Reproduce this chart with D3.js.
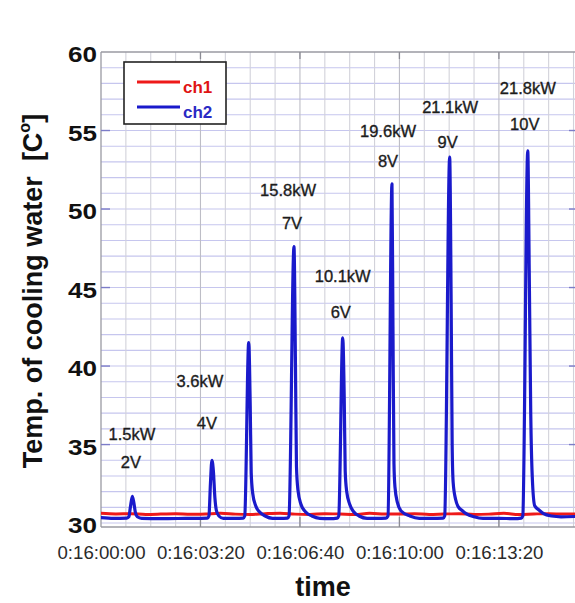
<!DOCTYPE html>
<html>
<head>
<meta charset="utf-8">
<script src="https://cdn.jsdelivr.net/npm/d3@7"></script>
<style>
  body { margin: 0; background: #fff; }
  svg { display: block; }
  text { font-family: "Liberation Sans", Arial, sans-serif; }
</style>
</head>
<body>
<svg id="chart" width="575" height="603"></svg>
<script>
// ===== Data =====
// time is seconds after 0:16:00:00
const timeTicks = [0, 200, 400, 600, 800];
const tempTicks = [30, 35, 40, 45, 50, 55, 60];

// ch1: reference channel, nearly flat
const ch1Time = [0, 30, 60, 90, 120, 150, 180, 210, 240, 270, 300, 330, 360, 390, 420, 450,
                 480, 510, 540, 570, 600, 630, 660, 690, 720, 750, 780, 810, 840, 870, 900, 930, 955];
const ch1Temp = [30.62, 30.58, 30.6, 30.55, 30.57, 30.6, 30.56, 30.58, 30.62, 30.57, 30.55, 30.6,
                 30.63, 30.57, 30.55, 30.6, 30.58, 30.55, 30.62, 30.58, 30.57, 30.6, 30.55, 30.58,
                 30.6, 30.55, 30.57, 30.62, 30.55, 30.58, 30.6, 30.57, 30.58];

// ch2: cooling water, one spike per load step
const ch2Time = [0, 25, 52, 56, 59, 63, 66, 69, 73, 82, 120, 170,
                 214, 217, 220, 223, 226, 229, 232, 237, 246, 270,
                 286, 289, 297, 300, 302, 305, 311, 319, 330, 345, 360,
                 375, 378, 388, 391, 393, 396, 402, 411, 424, 440, 460,
                 475, 478, 486, 489, 491, 494, 500, 508, 519, 535, 555,
                 573, 577, 585, 587, 589, 591, 596, 604, 621, 640, 665,
                 688, 691, 701, 704, 706, 708, 713, 718, 726, 735, 750, 768, 800, 830,
                 845, 848, 858, 861, 864, 867, 872, 880, 889, 906, 925, 955];
const ch2Temp = [30.35, 30.3, 30.32, 30.4, 31.0, 31.7, 31.3, 30.7, 30.4, 30.3, 30.28, 30.3,
                 30.32, 30.45, 32.5, 34.0, 33.3, 31.6, 30.8, 30.45, 30.3, 30.3,
                 30.32, 30.45, 41.5, 37.5, 33.2, 31.9, 31.1, 30.7, 30.45, 30.3, 30.3,
                 30.32, 30.45, 47.6, 40.0, 33.6, 32.1, 31.2, 30.72, 30.45, 30.3, 30.28,
                 30.32, 30.45, 41.8, 38.0, 33.3, 32.0, 31.2, 30.72, 30.45, 30.3, 30.3,
                 30.32, 30.45, 51.6, 42.5, 33.8, 32.3, 31.3, 30.75, 30.45, 30.3, 30.3,
                 30.32, 30.45, 53.3, 44.0, 35.0, 32.6, 31.5, 31.05, 30.8, 30.58, 30.4, 30.3, 30.3, 30.28,
                 30.32, 30.45, 53.7, 46.0, 37.0, 33.0, 31.1, 30.85, 30.62, 30.45, 30.4, 30.42];

// annotations next to the spikes (anchored in data units)
const noteText = ['1.5kW', '2V', '3.6kW', '4V', '15.8kW', '7V', '10.1kW', '6V',
                  '19.6kW', '8V', '21.1kW', '9V', '21.8kW', '10V'];
const noteTime = [62, 60, 199, 213, 376, 384, 486, 482, 577, 577, 702, 697, 858, 852];
const noteTemp = [35.29, 33.51, 38.67, 35.99, 50.83, 48.73, 45.36, 43.06,
                  54.59, 52.68, 56.12, 53.89, 57.33, 55.04];

const seriesNames = ['ch1', 'ch2'];

// ===== Styling =====
const colors = { ch1: '#ee1a1a', ch2: '#1a1acb' };
const textColors = { ch1: '#e01414', ch2: '#2a2ac4' };

const svg = d3.select('#chart');

const x = d3.scaleLinear().domain([0, 955]).range([101, 576]);
const y = d3.scaleLinear().domain([29.75, 60]).range([527, 52]);

const [x0, x1] = x.range();
const [yb, yt] = y.range();

svg.append('rect').attr('width', 575).attr('height', 603).attr('fill', '#fff');

svg.append('defs').append('clipPath').attr('id', 'plot-clip')
    .append('rect')
    .attr('x', x0).attr('y', yt)
    .attr('width', x1 - x0).attr('height', yb - yt);

// --- Grid ---
const grid = svg.append('g').attr('class', 'grid');

grid.selectAll('line.h')
    .data(d3.range(30, 60, 1))
    .join('line')
    .attr('class', 'h')
    .attr('x1', x0).attr('x2', x1)
    .attr('y1', d => y(d)).attr('y2', d => y(d))
    .style('stroke', '#c6c6ee')
    .style('stroke-width', 1.1);

grid.selectAll('line.v')
    .data(d3.range(50, 955, 50))
    .join('line')
    .attr('class', 'v')
    .attr('x1', d => x(d)).attr('x2', d => x(d))
    .attr('y1', yt).attr('y2', yb)
    .style('stroke', d => d % 200 === 0 ? '#bdbdc6' : '#d2d2da')
    .style('stroke-width', 1.1);

// --- Frame ---
const frame = svg.append('g').style('stroke', '#9a9aa2').style('stroke-width', 1.3);
frame.append('line').attr('x1', x0).attr('x2', x1).attr('y1', yt).attr('y2', yt);
frame.append('line').attr('x1', x0).attr('x2', x1).attr('y1', yb).attr('y2', yb);
frame.append('line').attr('x1', x0).attr('x2', x0).attr('y1', yt).attr('y2', yb);

// small tick marks inside the frame
svg.append('g').selectAll('line')
    .data(tempTicks.filter(d => d > 30 && d < 60))
    .join('line')
    .attr('x1', x0).attr('x2', x0 + 9)
    .attr('y1', d => y(d)).attr('y2', d => y(d))
    .style('stroke', '#7c7cc8').style('stroke-width', 1.4);

svg.append('g').selectAll('line')
    .data(tempTicks.filter(d => d > 30 && d < 60))
    .join('line')
    .attr('x1', x1 - 7).attr('x2', x1)
    .attr('y1', d => y(d)).attr('y2', d => y(d))
    .style('stroke', '#7c7cc8').style('stroke-width', 1.4);

svg.append('g').selectAll('line')
    .data(timeTicks.filter(d => d > 0))
    .join('line')
    .attr('x1', d => x(d)).attr('x2', d => x(d))
    .attr('y1', yb).attr('y2', yb - 10)
    .style('stroke', '#8c8c94').style('stroke-width', 1.3);

svg.append('g').selectAll('line')
    .data(timeTicks.filter(d => d > 0))
    .join('line')
    .attr('x1', d => x(d)).attr('x2', d => x(d))
    .attr('y1', yt).attr('y2', yt + 7)
    .style('stroke', '#8c8c94').style('stroke-width', 1.3);

// --- Series ---
const line = d3.line()
    .x(d => x(d[0]))
    .y(d => y(d[1]))
    .curve(d3.curveMonotoneX);

const series = {
    ch1: d3.zip(ch1Time, ch1Temp),
    ch2: d3.zip(ch2Time, ch2Temp)
};

const plot = svg.append('g').attr('clip-path', 'url(#plot-clip)');
seriesNames.forEach(name => {
    plot.append('path')
        .datum(series[name])
        .attr('d', line)
        .style('fill', 'none')
        .style('stroke', colors[name])
        .style('stroke-width', name === 'ch2' ? 3.2 : 3)
        .style('stroke-linejoin', 'round')
        .style('stroke-linecap', 'round');
});

// --- Spike annotations ---
svg.append('g').selectAll('text')
    .data(d3.zip(noteText, noteTime, noteTemp))
    .join('text')
    .attr('x', d => x(d[1]))
    .attr('y', d => y(d[2]))
    .text(d => d[0])
    .style('font-size', '16.5px')
    .style('text-anchor', 'middle')
    .style('fill', '#1c1c1c')
    .style('stroke', '#1c1c1c')
    .style('stroke-width', 0.35);

// --- Axes ---
const fmtTime = t => {
    const mm = String(Math.floor(t / 60)).padStart(2, '0');
    const ss = String(t % 60).padStart(2, '0');
    return `0:16:${mm}:${ss}`;
};

const xAxis = svg.append('g')
    .attr('transform', `translate(0,${yb})`)
    .call(d3.axisBottom(x).tickValues(timeTicks).tickSize(0).tickFormat(fmtTime));
xAxis.select('.domain').remove();
xAxis.selectAll('text')
    .attr('y', 32).attr('dy', 0)
    .attr('textLength', 88).attr('lengthAdjust', 'spacingAndGlyphs')
    .style('font-size', '19px')
    .style('fill', '#2a2a2a')
    .style('font-family', '"Liberation Sans", Arial, sans-serif');

const yAxis = svg.append('g')
    .attr('transform', `translate(${x0},0)`)
    .call(d3.axisLeft(y).tickValues(tempTicks).tickSize(0).tickPadding(4));
yAxis.select('.domain').remove();
yAxis.selectAll('text')
    .attr('dy', '0.45em')
    .attr('textLength', 29).attr('lengthAdjust', 'spacingAndGlyphs')
    .style('font-size', '22px')
    .style('font-weight', 'bold')
    .style('fill', '#111')
    .style('font-family', '"Liberation Sans", Arial, sans-serif');

// axis titles
svg.append('text')
    .attr('x', 323).attr('y', 596)
    .text('time')
    .style('font-size', '27px')
    .style('font-weight', 'bold')
    .style('text-anchor', 'middle')
    .style('fill', '#111');

const yTitle = svg.append('text')
    .attr('transform', 'translate(42,291) rotate(-90)')
    .style('font-size', '27px')
    .style('font-weight', 'bold')
    .style('text-anchor', 'middle')
    .style('white-space', 'pre')
    .style('fill', '#111');
yTitle.append('tspan').text('Temp. of cooling water  [C');
yTitle.append('tspan').text('o').attr('dy', -12).style('font-size', '16px');
yTitle.append('tspan').text(']').attr('dy', 12);

// --- Legend ---
const legend = svg.append('g');
legend.append('rect')
    .attr('x', 124).attr('y', 62)
    .attr('width', 102).attr('height', 62)
    .style('fill', '#fff')
    .style('stroke', '#222')
    .style('stroke-width', 1.6);

seriesNames.forEach((name, i) => {
    const ly = 82 + i * 25;
    legend.append('line')
        .attr('x1', 137).attr('x2', 180)
        .attr('y1', ly).attr('y2', ly)
        .style('stroke', colors[name])
        .style('stroke-width', 3);
    legend.append('text')
        .attr('x', 183).attr('y', ly + 11)
        .text(name)
        .style('font-size', '17px')
        .style('font-weight', 'bold')
        .style('fill', textColors[name]);
});
</script>
</body>
</html>
